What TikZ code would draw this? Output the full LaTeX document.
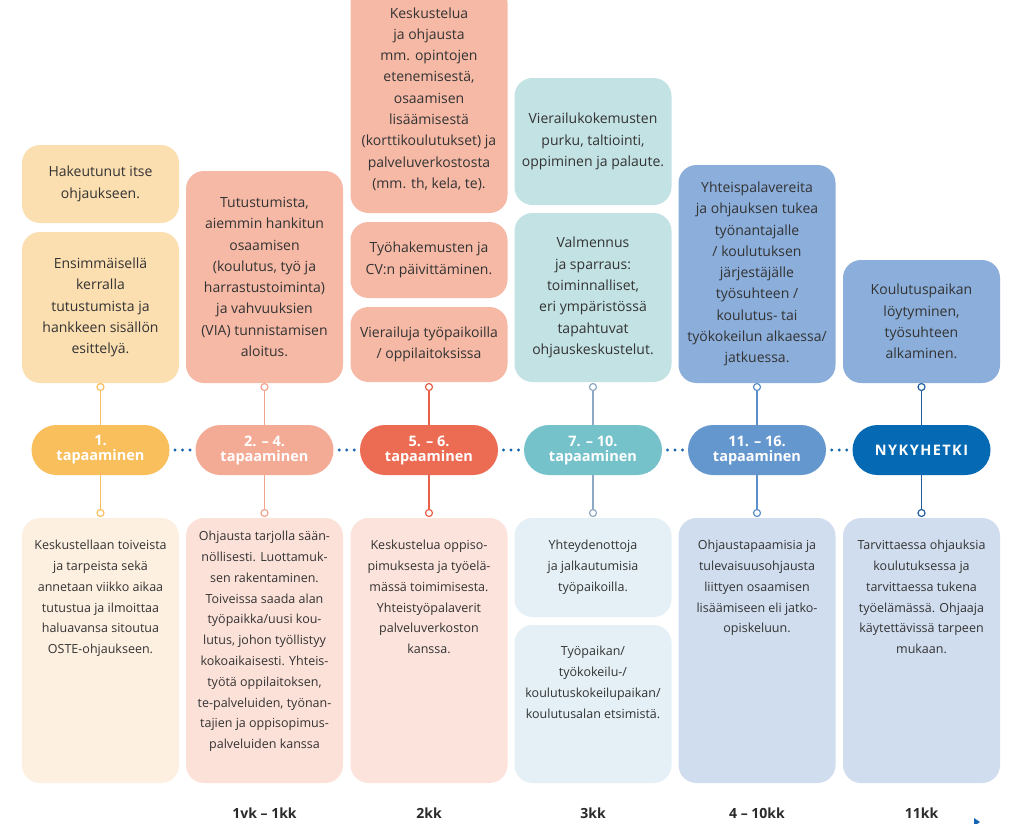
\documentclass[tikz,border=0pt]{standalone}
\usepackage{fontspec}
\setmainfont{Open Sans}
\usetikzlibrary{calc}
\definecolor{txt}{HTML}{333333}
\definecolor{lbltxt}{HTML}{2A2A2A}
\definecolor{dotblue}{HTML}{1565B0}
\definecolor{cAtop}{HTML}{FCDFB1}
\definecolor{cApill}{HTML}{F9BF5D}
\definecolor{cAbot}{HTML}{FEF0E1}
\definecolor{cAline}{HTML}{F8BF5E}
\definecolor{cBtop}{HTML}{F6B9A6}
\definecolor{cBpill}{HTML}{F4AB95}
\definecolor{cBbot}{HTML}{FCE1D8}
\definecolor{cBline}{HTML}{F3A38D}
\definecolor{cCtop}{HTML}{F6B9A6}
\definecolor{cCpill}{HTML}{EC6B53}
\definecolor{cCbot}{HTML}{FCE3DB}
\definecolor{cCline}{HTML}{E8604A}
\definecolor{cDtop}{HTML}{C3E2E4}
\definecolor{cDpill}{HTML}{75C2CB}
\definecolor{cDbot}{HTML}{E4F0F5}
\definecolor{cDline}{HTML}{8DA9C4}
\definecolor{cEtop}{HTML}{8BAEDB}
\definecolor{cEpill}{HTML}{6597CF}
\definecolor{cEbot}{HTML}{D0DDEF}
\definecolor{cEline}{HTML}{5B8FC9}
\definecolor{cFtop}{HTML}{8BAEDB}
\definecolor{cFpill}{HTML}{0669B3}
\definecolor{cFbot}{HTML}{D0DDEF}
\definecolor{cFline}{HTML}{1F5FA0}
\newcommand\mytopfont{\fontsize{14}{21.3}\selectfont}
\newcommand\mybotfont{\fontsize{12.5}{20.8}\selectfont}
\newcommand\mypillfont{\fontsize{14.5}{15}\selectfont\bfseries}
\newcommand\mylblfont{\fontsize{14}{16}\selectfont\bfseries}
\begin{document}
\begin{tikzpicture}[x=1pt,y=-1pt,
  topbox/.style={rounded corners=18pt, minimum width=157pt, inner sep=0pt, align=center, font=\mytopfont, text=txt},
  botbox/.style={rounded corners=18pt, minimum width=157pt, inner sep=0pt},
  bottext/.style={anchor=north, inner sep=0pt, align=center, font=\mybotfont, text=txt},
  pill/.style={rounded corners=25pt, minimum width=138pt, minimum height=50pt, inner sep=0pt, align=center, font=\mypillfont, text=white},
  knob/.style={circle, fill=white, line width=1.2pt, minimum size=7pt, inner sep=0pt},
  link/.style={line width=1.5pt},
  lbl/.style={font=\mylblfont, text=lbltxt, inner sep=0pt}
]
\useasboundingbox (0,0) rectangle (1024,823);
\fill[white] (0,0) rectangle (1024,823);

% ---------- column 1 ----------
\node[topbox, fill=cAtop, minimum height=78pt] (a1) at (100.5,184) {Hakeutunut itse\\ohjaukseen.};
\node[topbox, fill=cAtop, minimum height=151pt] (a2) at (100.5,307.5) {Ensimmäisellä\\kerralla\\tutustumista ja\\hankkeen sisällön\\esittelyä.};
\node[pill, fill=cApill] (p1) at (100.5,450) {1.\\tapaaminen};
\node[botbox, fill=cAbot, minimum height=265pt] (b1) at (100.5,650.5) {};
\node[bottext] (b1t) at (100.5,540) {Keskustellaan toiveista\\ja tarpeista sekä\\annetaan viikko aikaa\\tutustua ja ilmoittaa\\haluavansa sitoutua\\OSTE-ohjaukseen.};

% ---------- column 2 ----------
\node[topbox, fill=cBtop, minimum height=212pt] (a3) at (264.5,277) {Tutustumista,\\aiemmin hankitun\\osaamisen\\(koulutus, työ ja\\harrastustoiminta)\\ja vahvuuksien\\(VIA) tunnistamisen\\aloitus.};
\node[pill, fill=cBpill] (p2) at (264.5,450) {2. -- 4.\\tapaaminen};
\node[botbox, fill=cBbot, minimum height=265pt] (b2) at (264.5,650.5) {};
\node[bottext] (b2t) at (264.5,531) {Ohjausta tarjolla sään-\\nöllisesti. Luottamuk-\\sen rakentaminen.\\Toiveissa saada alan\\työpaikka/uusi kou-\\lutus, johon työllistyy\\kokoaikaisesti. Yhteis-\\työtä oppilaitoksen,\\te-palveluiden, työnan-\\tajien ja oppisopimus-\\palveluiden kanssa};

% ---------- column 3 ----------
\node[topbox, fill=cCtop, minimum height=228pt] (a4) at (429,99) {Keskustelua\\ja ohjausta\\mm. opintojen\\etenemisestä,\\osaamisen\\lisäämisestä\\(korttikoulutukset) ja\\palveluverkostosta\\(mm. th, kela, te).};
\node[topbox, fill=cCtop, minimum height=76pt] (a5) at (429,260) {Työhakemusten ja\\CV:n päivittäminen.};
\node[topbox, fill=cCtop, minimum height=75pt] (a6) at (429,344.5) {Vierailuja työpaikoilla\\/ oppilaitoksissa};
\node[pill, fill=cCpill] (p3) at (429,450) {5. -- 6.\\tapaaminen};
\node[botbox, fill=cCbot, minimum height=265pt] (b3) at (429,650.5) {};
\node[bottext] (b3t) at (429,540) {Keskustelua oppiso-\\pimuksesta ja työelä-\\mässä toimimisesta.\\Yhteistyöpalaverit\\palveluverkoston\\kanssa.};

% ---------- column 4 ----------
\node[topbox, fill=cDtop, minimum height=127pt] (a7) at (593,141.5) {Vierailukokemusten\\purku, taltiointi,\\oppiminen ja palaute.};
\node[topbox, fill=cDtop, minimum height=169pt] (a8) at (593,297.5) {Valmennus\\ja sparraus:\\toiminnalliset,\\eri ympäristössä\\tapahtuvat\\ohjauskeskustelut.};
\node[pill, fill=cDpill] (p4) at (593,450) {7. -- 10.\\tapaaminen};
\node[botbox, fill=cDbot, minimum height=99pt] (b4) at (593,567.5) {};
\node[bottext] (b4t) at (593,540) {Yhteydenottoja\\ja jalkautumisia\\työpaikoilla.};
\node[botbox, fill=cDbot, minimum height=158pt] (b5) at (593,704) {};
\node[bottext] (b5t) at (593,646) {Työpaikan/\\työkokeilu-/\\koulutuskokeilupaikan/\\koulutusalan etsimistä.};

% ---------- column 5 ----------
\node[topbox, fill=cEtop, minimum height=218pt] (a9) at (757,274) {Yhteispalavereita\\ja ohjauksen tukea\\työnantajalle\\/ koulutuksen\\järjestäjälle\\työsuhteen /\\koulutus- tai\\työkokeilun alkaessa/\\jatkuessa.};
\node[pill, fill=cEpill] (p5) at (757,450) {11. -- 16.\\tapaaminen};
\node[botbox, fill=cEbot, minimum height=265pt] (b6) at (757,650.5) {};
\node[bottext] (b6t) at (757,540) {Ohjaustapaamisia ja\\tulevaisuusohjausta\\liittyen osaamisen\\lisäämiseen eli jatko-\\opiskeluun.};

% ---------- column 6 ----------
\node[topbox, fill=cFtop, minimum height=123pt] (a10) at (921.5,321.5) {Koulutuspaikan\\löytyminen,\\työsuhteen\\alkaminen.};
\node[pill, fill=cFpill] (p6) at (921.5,450) {\addfontfeatures{LetterSpace=10}NYKYHETKI};
\node[botbox, fill=cFbot, minimum height=265pt] (b7) at (921.5,650.5) {};
\node[bottext] (b7t) at (921.5,540) {Tarvittaessa ohjauksia\\koulutuksessa ja\\tarvittaessa tukena\\työelämässä. Ohjaaja\\käytettävissä tarpeen\\mukaan.};

% ---------- knobs and links ----------
\foreach \p/\c/\x in {p1/cAline/100.5, p2/cBline/264.5, p3/cCline/429, p4/cDline/593, p5/cEline/757, p6/cFline/921.5}{
  \node[knob, draw=\c] (\p u) at (\x,387) {};
  \node[knob, draw=\c] (\p d) at (\x,513) {};
  \draw[link, \c] (\p u.south) -- (\p.north);
  \draw[link, \c] (\p d.north) -- (\p.south);
}

% ---------- dots between pills ----------
\foreach \l/\r in {p1/p2, p2/p3, p3/p4, p4/p5, p5/p6}{
  \coordinate (m\l) at ($(\l.east)!0.5!(\r.west)$);
  \foreach \dx in {-7.5,0,7.5}{
    \fill[dotblue] ($(m\l)+(\dx,0)$) circle (1.6pt);
  }
}

% ---------- time labels ----------
\node[lbl] (t2) at (264.5,813) {1vk -- 1kk};
\node[lbl] (t3) at (429,813) {2kk};
\node[lbl] (t4) at (593,813) {3kk};
\node[lbl] (t5) at (757,813) {4 -- 10kk};
\node[lbl] (t6) at (921.5,813) {11kk};

% small cut-off arrow tip
\fill[dotblue] (974,818) -- (980,822) -- (974,826) -- cycle;
\end{tikzpicture}
\end{document}
